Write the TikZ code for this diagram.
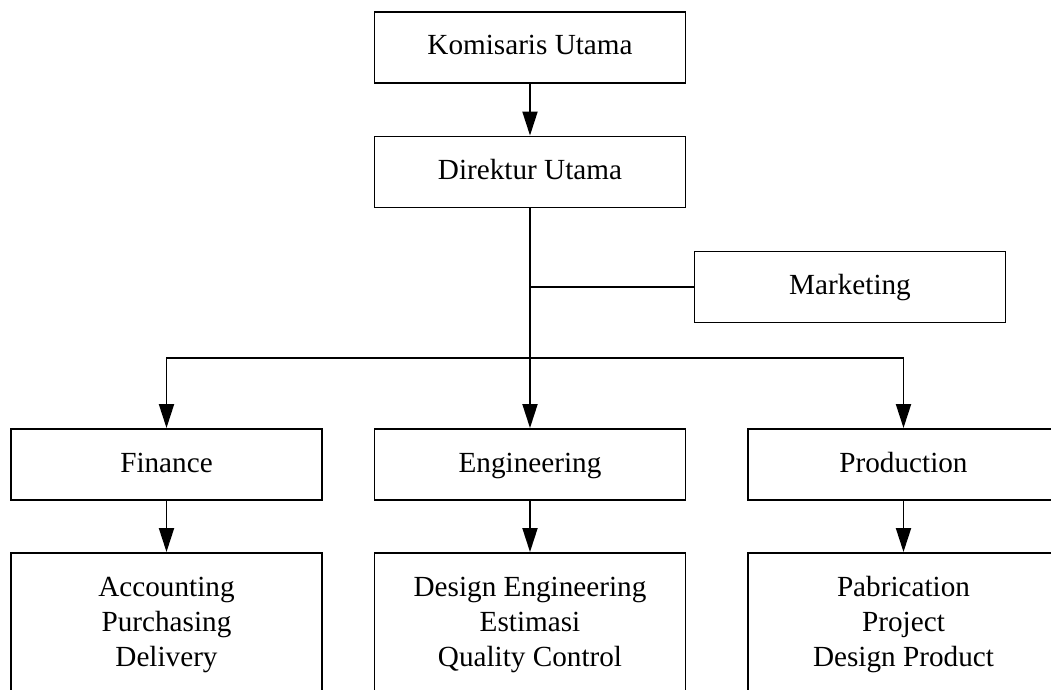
\documentclass[tikz,border=0pt]{standalone}
\usepackage{fontspec}
\setmainfont{Liberation Serif}
\usetikzlibrary{arrows.meta}
\begin{document}
\begin{tikzpicture}[x=0.5pt,y=-0.5pt,
  box/.style={draw, line width=0.95pt, rectangle, minimum width=155.5pt, minimum height=35.5pt, inner sep=0pt, align=center, font=\fontsize{14.6}{17.5}\selectfont},
  onebox/.style={box, text height=10pt, text depth=2.5pt},
  listbox/.style={box, minimum height=72pt},
  conn/.style={line width=0.95pt},
  arr/.style={conn, -{Triangle[length=12pt,width=7.5pt]}}]
\useasboundingbox (0,0) rectangle (1051,690);
\clip (0,0) rectangle (1051,690);
\node[onebox] (kom) at (530,47.5) {Komisaris Utama};
\node[onebox] (dir) at (530,172) {Direktur Utama};
\node[onebox] (mkt) at (850,287) {Marketing};
\node[onebox] (fin) at (166.5,464.5) {Finance};
\node[onebox] (eng) at (530,464.5) {Engineering};
\node[onebox] (pro) at (903.5,464.5) {Production};
\node[listbox] (finl) at (166.5,625) {Accounting\\Purchasing\\Delivery};
\node[listbox] (engl) at (530,625) {Design Engineering\\Estimasi\\Quality Control};
\node[listbox] (prol) at (903.5,625) {Pabrication\\Project\\Design Product};
\coordinate (mj) at (530,287);
\coordinate (j) at (530,358);
\draw[arr] (kom.south) -- (dir.north);
\draw[conn] (dir.south) -- (j);
\draw[conn] (mj) -- (mkt.west);
\draw[arr] (j) -| (fin.north);
\draw[arr] (j) -- (eng.north);
\draw[arr] (j) -| (pro.north);
\draw[arr] (fin.south) -- (finl.north);
\draw[arr] (eng.south) -- (engl.north);
\draw[arr] (pro.south) -- (prol.north);
\end{tikzpicture}
\end{document}
